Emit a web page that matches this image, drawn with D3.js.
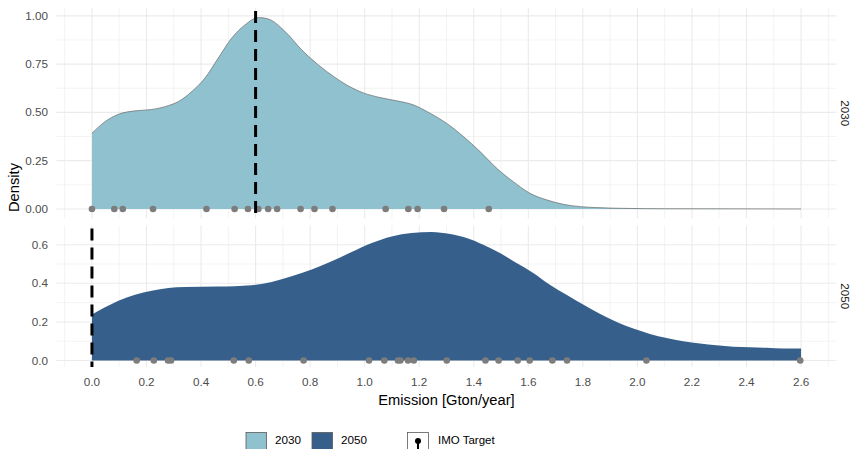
<!DOCTYPE html>
<html><head><meta charset="utf-8">
<script src="https://cdn.jsdelivr.net/npm/d3@7"></script>
<style>body{margin:0;background:#fff}svg{display:block}</style>
</head><body><svg id="c" width="852" height="449"></svg>
<script>
// ---- data ----
const years = ["2030", "2050"];
const imoTarget = [0.6, 0.0];
const xTicks = [0,0.2,0.4,0.6,0.8,1.0,1.2,1.4,1.6,1.8,2.0,2.2,2.4,2.6];
const yTicks2030 = [0, 0.25, 0.5, 0.75, 1.0];
const yTicks2050 = [0, 0.2, 0.4, 0.6];
const points2030 = [0,0.082,0.113,0.224,0.42,0.523,0.572,0.61,0.646,0.679,0.765,0.816,0.882,1.077,1.16,1.194,1.291,1.455];
const points2050 = [0.164,0.227,0.279,0.29,0.52,0.575,0.776,1.016,1.072,1.122,1.131,1.159,1.18,1.301,1.443,1.491,1.561,1.605,1.688,1.742,2.033,2.597];
const density2030 = [[0,0.392],[0.048,0.452],[0.097,0.49],[0.158,0.508],[0.219,0.515],[0.28,0.535],[0.317,0.556],[0.366,0.608],[0.414,0.677],[0.463,0.781],[0.512,0.884],[0.561,0.953],[0.61,0.991],[0.646,0.984],[0.708,0.919],[0.769,0.824],[0.83,0.746],[0.891,0.681],[0.934,0.642],[0.995,0.601],[1.056,0.577],[1.117,0.56],[1.178,0.539],[1.239,0.496],[1.30,0.444],[1.362,0.375],[1.423,0.297],[1.484,0.211],[1.545,0.141],[1.606,0.081],[1.667,0.047],[1.728,0.024],[1.79,0.012],[1.85,0.007],[1.95,0.003],[2.1,0.001],[2.6,0.0]];
const density2050 = [[0,0.238],[0.048,0.276],[0.097,0.31],[0.158,0.341],[0.219,0.362],[0.28,0.376],[0.341,0.381],[0.463,0.383],[0.585,0.39],[0.659,0.407],[0.732,0.436],[0.806,0.471],[0.879,0.514],[0.952,0.562],[1.026,0.609],[1.099,0.643],[1.172,0.661],[1.246,0.666],[1.313,0.655],[1.374,0.635],[1.435,0.6],[1.496,0.557],[1.557,0.505],[1.618,0.454],[1.679,0.393],[1.74,0.341],[1.801,0.29],[1.862,0.242],[1.924,0.2],[1.985,0.166],[2.046,0.138],[2.107,0.117],[2.168,0.1],[2.23,0.088],[2.29,0.079],[2.352,0.072],[2.413,0.069],[2.474,0.066],[2.535,0.062],[2.6,0.062]];
const fills = ["#85bccb", "#255281"];

const svg = d3.select("#c");
const font = "'Liberation Sans', Arial, sans-serif";
const pLeft = 56.5, pRight = 836.5, pTop = 8, pBottom = 367, gap = 7;
const x = d3.scaleLinear().domain([-0.13, 2.73]).range([pLeft, pRight]);

const panels = [
  {year: years[0], pts: points2030, dens: density2030, ticks: yTicks2030, fmt: d3.format(".2f"), target: imoTarget[0], fill: fills[0], stroke: "#6a6a6a"},
  {year: years[1], pts: points2050, dens: density2050, ticks: yTicks2050, fmt: d3.format(".1f"), target: imoTarget[1], fill: fills[1], stroke: null}
];
panels.forEach(p => { const m = d3.max(p.dens, d => d[1]); p.dom = [-0.05*m, 1.05*m]; p.span = 1.1*m; });
const tot = d3.sum(panels, p => p.span);
const avail = pBottom - pTop - gap;
let cur = pTop;
panels.forEach(p => { p.h = avail * p.span / tot; p.y0 = cur; p.y1 = cur + p.h; cur = p.y1 + gap; p.y = d3.scaleLinear().domain(p.dom).range([p.y1, p.y0]); });

const xMinor = d3.range(-0.1, 2.75, 0.2);
panels.forEach(p => {
  const g = svg.append("g");
  g.selectAll(".xm").data(xMinor).join("line").attr("x1", d => x(d)).attr("x2", d => x(d)).attr("y1", p.y0).attr("y2", p.y1).attr("stroke", "#ebebeb").attr("stroke-width", 0.6);
  const step = p.ticks[1] - p.ticks[0];
  const yMinor = d3.range(p.ticks[0] - step/2, p.dom[1] + 1e-9, step).filter(v => v >= p.dom[0] && v <= p.dom[1]);
  g.selectAll(".ym").data(yMinor).join("line").attr("x1", pLeft).attr("x2", pRight).attr("y1", d => p.y(d)).attr("y2", d => p.y(d)).attr("stroke", "#ebebeb").attr("stroke-width", 0.6);
  g.selectAll(".xM").data(xTicks).join("line").attr("x1", d => x(d)).attr("x2", d => x(d)).attr("y1", p.y0).attr("y2", p.y1).attr("stroke", "#ebebeb").attr("stroke-width", 1.1);
  g.selectAll(".yM").data(p.ticks).join("line").attr("x1", pLeft).attr("x2", pRight).attr("y1", d => p.y(d)).attr("y2", d => p.y(d)).attr("stroke", "#ebebeb").attr("stroke-width", 1.1);
  g.selectAll(".yl").data(p.ticks).join("text").attr("x", 48).attr("y", d => p.y(d)).attr("dy", "0.35em").attr("text-anchor", "end")
    .attr("font-family", font).attr("font-size", 11.7).attr("fill", "#4d4d4d").text(p.fmt);
  const area = d3.area().x(d => x(d[0])).y0(p.y(0)).y1(d => p.y(d[1])).curve(d3.curveMonotoneX);
  g.append("path").datum(p.dens).attr("d", area).attr("fill", p.fill).attr("fill-opacity", 0.92);
  if (p.stroke) {
    const line = d3.line().x(d => x(d[0])).y(d => p.y(d[1])).curve(d3.curveMonotoneX);
    g.append("path").datum(p.dens).attr("d", line).attr("fill", "none").attr("stroke", p.stroke).attr("stroke-width", 0.7);
  }
  g.selectAll(".pt").data(p.pts).join("circle").attr("cx", d => x(d)).attr("cy", p.y(0)).attr("r", 3.3).attr("fill", "#7d7d7d");
  g.append("line").attr("x1", x(p.target)).attr("x2", x(p.target)).attr("y1", p.y0 + 3).attr("y2", p.y1).attr("stroke", "#000").attr("stroke-width", 3).attr("stroke-dasharray", "12,7");
  const cy = (p.y0 + p.y1) / 2;
  g.append("text").attr("transform", `translate(845,${cy}) rotate(90)`).attr("text-anchor", "middle").attr("dy", "0.35em")
    .attr("font-family", font).attr("font-size", 11.7).attr("fill", "#1a1a1a").text(p.year);
});

svg.selectAll(".xl").data(xTicks).join("text").attr("x", d => x(d)).attr("y", 385.5).attr("text-anchor", "middle")
  .attr("font-family", font).attr("font-size", 11.7).attr("fill", "#4d4d4d").text(d3.format(".1f"));
svg.append("text").attr("x", x(1.3)).attr("y", 405).attr("text-anchor", "middle").attr("font-family", font).attr("font-size", 14.7)
  .attr("fill", "#000").text("Emission [Gton/year]");
svg.append("text").attr("transform", `translate(19,${(pTop+pBottom)/2}) rotate(-90)`).attr("text-anchor", "middle")
  .attr("font-family", font).attr("font-size", 14.7).attr("fill", "#000").text("Density");

const lg = svg.append("g");
const keys = [{lab: years[0], fill: fills[0], kx: 246, tx: 275}, {lab: years[1], fill: fills[1], kx: 312, tx: 341}];
keys.forEach(k => {
  lg.append("rect").attr("x", k.kx).attr("y", 432.5).attr("width", 20.5).attr("height", 20).attr("fill", k.fill).attr("fill-opacity", 0.92).attr("stroke", "#5a5a5a").attr("stroke-width", 0.8);
  lg.append("text").attr("x", k.tx).attr("y", 444).attr("font-family", font).attr("font-size", 11.7).attr("fill", "#000").text(k.lab);
});
lg.append("rect").attr("x", 407.5).attr("y", 432.5).attr("width", 21).attr("height", 20).attr("fill", "#fff").attr("stroke", "#5a5a5a").attr("stroke-width", 0.8);
lg.append("line").attr("x1", 418).attr("x2", 418).attr("y1", 441).attr("y2", 452).attr("stroke", "#000").attr("stroke-width", 2);
lg.append("circle").attr("cx", 418).attr("cy", 441).attr("r", 3).attr("fill", "#000");
lg.append("text").attr("x", 438).attr("y", 444).attr("font-family", font).attr("font-size", 11.5).attr("fill", "#000").text("IMO Target");
</script></body></html>
